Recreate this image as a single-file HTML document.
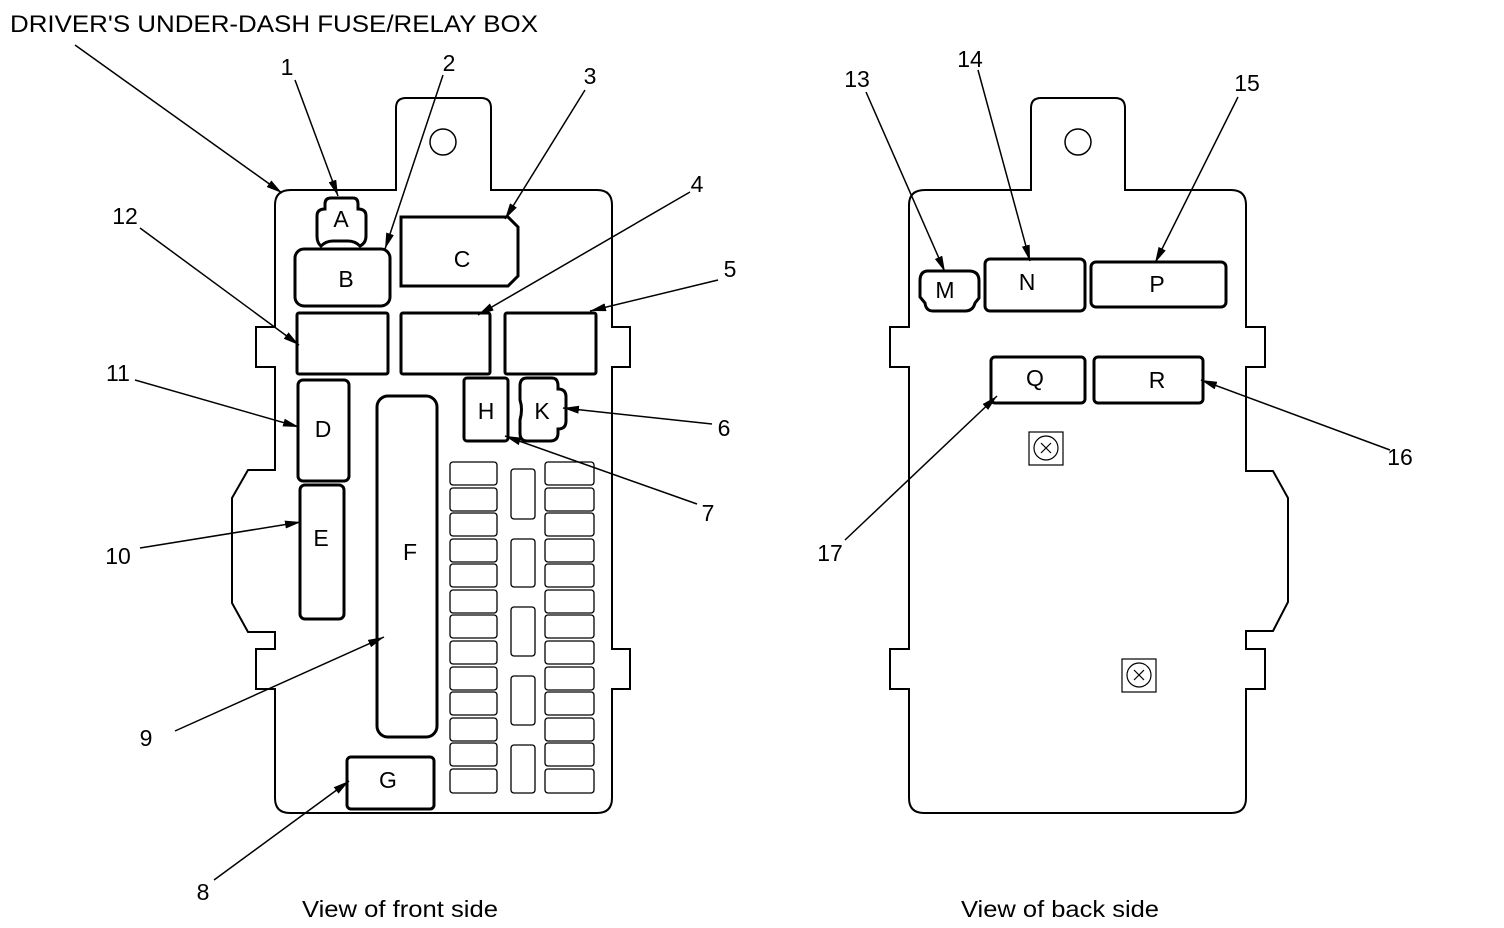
<!DOCTYPE html>
<html><head><meta charset="utf-8"><style>
html,body{margin:0;padding:0;background:#fff;}
svg{display:block;font-family:"Liberation Sans",Arial,sans-serif;}
</style></head><body>
<svg width="1504" height="928" viewBox="0 0 1504 928" xmlns="http://www.w3.org/2000/svg">
<defs>
<marker id="ar" viewBox="0 0 16 8" refX="16" refY="4" markerWidth="16" markerHeight="8" markerUnits="userSpaceOnUse" orient="auto">
<path d="M0,0 L16,4 L0,8 Z" fill="#000"/></marker>
</defs>
<g fill="none" stroke="#000" stroke-width="2">
<path d="M291,190 H396 V108 Q396,98 406,98 H481 Q491,98 491,108 V190 H597 Q612,190 612,205 V327 H630 V367 H612 V649 H630 V689 H612 V798 Q612,813 597,813 H290 Q275,813 275,798 V689 H256 V649 H275 V632 H248 L232,603 V498 L248,470 H275 V367 H256 V327 H275 V205 Q275,190 291,190 Z"/>
<circle cx="443" cy="142" r="13" stroke-width="1.5"/>
</g>
<g fill="none" stroke="#000" stroke-width="3">
<path d="M331,198 H353 Q358,198 358,204 V209 Q366,209 366,216 V236 Q366,243 360,246 Q355,241 348,241 H333 Q326,241 321,246 Q317,243 317,236 V216 Q317,209 325,209 V204 Q325,198 331,198 Z"/>
<rect x="295" y="249" width="95" height="57" rx="9"/>
<path d="M401,217 H508 L518,227 V276 L508,286 H401 Z"/>
<rect x="297" y="313" width="91" height="61" rx="2"/>
<rect x="401" y="313" width="89" height="61" rx="2"/>
<rect x="505" y="313" width="91" height="61" rx="2"/>
<rect x="298" y="380" width="51" height="101" rx="5"/>
<rect x="300" y="485" width="44" height="134" rx="5"/>
<rect x="377" y="396" width="60" height="341" rx="11"/>
<rect x="464" y="378" width="44" height="63" rx="3"/>
<path d="M527,378 H552 Q558,378 558,386 V389 Q566,389 566,397 V421 Q566,429 558,429 V433 Q558,441 550,441 H527 Q520,441 520,433 V420 Q523,409 520,400 V386 Q520,378 527,378 Z"/>
<rect x="347" y="757" width="87" height="52" rx="4"/>
</g>
<g fill="none" stroke="#000" stroke-width="1.3">
<rect x="450" y="462" width="47" height="23" rx="3"/><rect x="450" y="488" width="47" height="23" rx="3"/><rect x="450" y="513" width="47" height="23" rx="3"/><rect x="450" y="539" width="47" height="23" rx="3"/><rect x="450" y="564" width="47" height="23" rx="3"/><rect x="450" y="590" width="47" height="23" rx="3"/><rect x="450" y="615" width="47" height="23" rx="3"/><rect x="450" y="641" width="47" height="23" rx="3"/><rect x="450" y="667" width="47" height="23" rx="3"/><rect x="450" y="692" width="47" height="23" rx="3"/><rect x="450" y="718" width="47" height="23" rx="3"/><rect x="450" y="743" width="47" height="23" rx="3"/><rect x="450" y="769" width="47" height="24" rx="3"/>
<rect x="545" y="462" width="49" height="23" rx="3"/><rect x="545" y="488" width="49" height="23" rx="3"/><rect x="545" y="513" width="49" height="23" rx="3"/><rect x="545" y="539" width="49" height="23" rx="3"/><rect x="545" y="564" width="49" height="23" rx="3"/><rect x="545" y="590" width="49" height="23" rx="3"/><rect x="545" y="615" width="49" height="23" rx="3"/><rect x="545" y="641" width="49" height="23" rx="3"/><rect x="545" y="667" width="49" height="23" rx="3"/><rect x="545" y="692" width="49" height="23" rx="3"/><rect x="545" y="718" width="49" height="23" rx="3"/><rect x="545" y="743" width="49" height="23" rx="3"/><rect x="545" y="769" width="49" height="24" rx="3"/>
<rect x="511" y="469" width="24" height="50" rx="3"/><rect x="511" y="539" width="24" height="48" rx="3"/><rect x="511" y="607" width="24" height="49" rx="3"/><rect x="511" y="676" width="24" height="49" rx="3"/><rect x="511" y="745" width="24" height="48" rx="3"/>
</g>
<g fill="none" stroke="#000" stroke-width="2">
<path d="M925,190 H1031 V108 Q1031,98 1041,98 H1115 Q1125,98 1125,108 V190 H1231 Q1246,190 1246,205 V327 H1265 V367 H1246 V471 H1273 L1288,498 V602 L1273,631 H1246 V649 H1265 V689 H1246 V798 Q1246,813 1231,813 H924 Q909,813 909,798 V689 H890 V649 H909 V367 H890 V327 H909 V205 Q909,190 925,190 Z"/>
<circle cx="1078" cy="142" r="13" stroke-width="1.5"/>
</g>
<g fill="none" stroke="#000" stroke-width="3">
<path d="M928,271 H969 Q979,271 979,281 V298 L975,303 Q973,311 965,311 H933 Q926,311 925,303 L920,297 V281 Q920,271 928,271 Z"/>
<rect x="985" y="259" width="100" height="52" rx="5"/>
<rect x="1091" y="262" width="135" height="45" rx="5"/>
<rect x="991" y="357" width="94" height="46" rx="4"/>
<rect x="1094" y="357" width="109" height="46" rx="4"/>
</g>
<g fill="none" stroke="#000" stroke-width="1.2">
<rect x="1029" y="432" width="34" height="33"/><circle cx="1046" cy="448" r="12"/>
<path d="M1041,443 L1051,453 M1051,443 L1041,453"/>
<rect x="1122" y="659" width="34" height="33"/><circle cx="1139" cy="675" r="12"/>
<path d="M1134,670 L1144,680 M1144,670 L1134,680"/>
</g>
<g stroke="#000" stroke-width="1.5" marker-end="url(#ar)">
<line x1="75" y1="45" x2="282" y2="193"/>
<line x1="295" y1="80" x2="338" y2="196"/>
<line x1="443" y1="75" x2="385" y2="249"/>
<line x1="585" y1="90" x2="505" y2="219"/>
<line x1="690" y1="192" x2="478" y2="315"/>
<line x1="718" y1="280" x2="590" y2="311"/>
<line x1="140" y1="228" x2="299" y2="345"/>
<line x1="135" y1="380" x2="299" y2="427"/>
<line x1="140" y1="548" x2="301" y2="522"/>
<line x1="175" y1="731" x2="384" y2="637"/>
<line x1="214" y1="880" x2="349" y2="781"/>
<line x1="697" y1="504" x2="505" y2="436"/>
<line x1="712" y1="424" x2="563" y2="408"/>
<line x1="866" y1="92" x2="945" y2="272"/>
<line x1="978" y1="70" x2="1030" y2="261"/>
<line x1="1238" y1="97" x2="1155" y2="263"/>
<line x1="1390" y1="450" x2="1201" y2="380"/>
<line x1="845" y1="540" x2="997" y2="396"/>
</g>
<g font-size="23" fill="#000" text-anchor="middle">
<text x="10" y="32" text-anchor="start" font-size="24" textLength="528" lengthAdjust="spacingAndGlyphs">DRIVER'S UNDER-DASH FUSE/RELAY BOX</text>
<text x="287" y="75">1</text><text x="449" y="71">2</text><text x="590" y="84">3</text>
<text x="697" y="192">4</text><text x="730" y="277">5</text><text x="125" y="224">12</text>
<text x="118" y="381">11</text><text x="118" y="564">10</text><text x="146" y="746">9</text>
<text x="203" y="900">8</text><text x="708" y="521">7</text><text x="724" y="436">6</text>
<text x="857" y="87">13</text><text x="970" y="67">14</text><text x="1247" y="91">15</text>
<text x="1400" y="465">16</text><text x="830" y="561">17</text>
<text x="341" y="227">A</text><text x="346" y="287">B</text><text x="462" y="267">C</text>
<text x="323" y="437">D</text><text x="321" y="546">E</text><text x="410" y="560">F</text>
<text x="486" y="419">H</text><text x="542" y="419">K</text><text x="388" y="788">G</text>
<text x="945" y="298">M</text><text x="1027" y="290">N</text><text x="1157" y="292">P</text>
<text x="1035" y="386">Q</text><text x="1157" y="388">R</text>
<text x="400" y="917" textLength="196" lengthAdjust="spacingAndGlyphs">View of front side</text>
<text x="1060" y="917" textLength="198" lengthAdjust="spacingAndGlyphs">View of back side</text>
</g>
</svg>
</body></html>
